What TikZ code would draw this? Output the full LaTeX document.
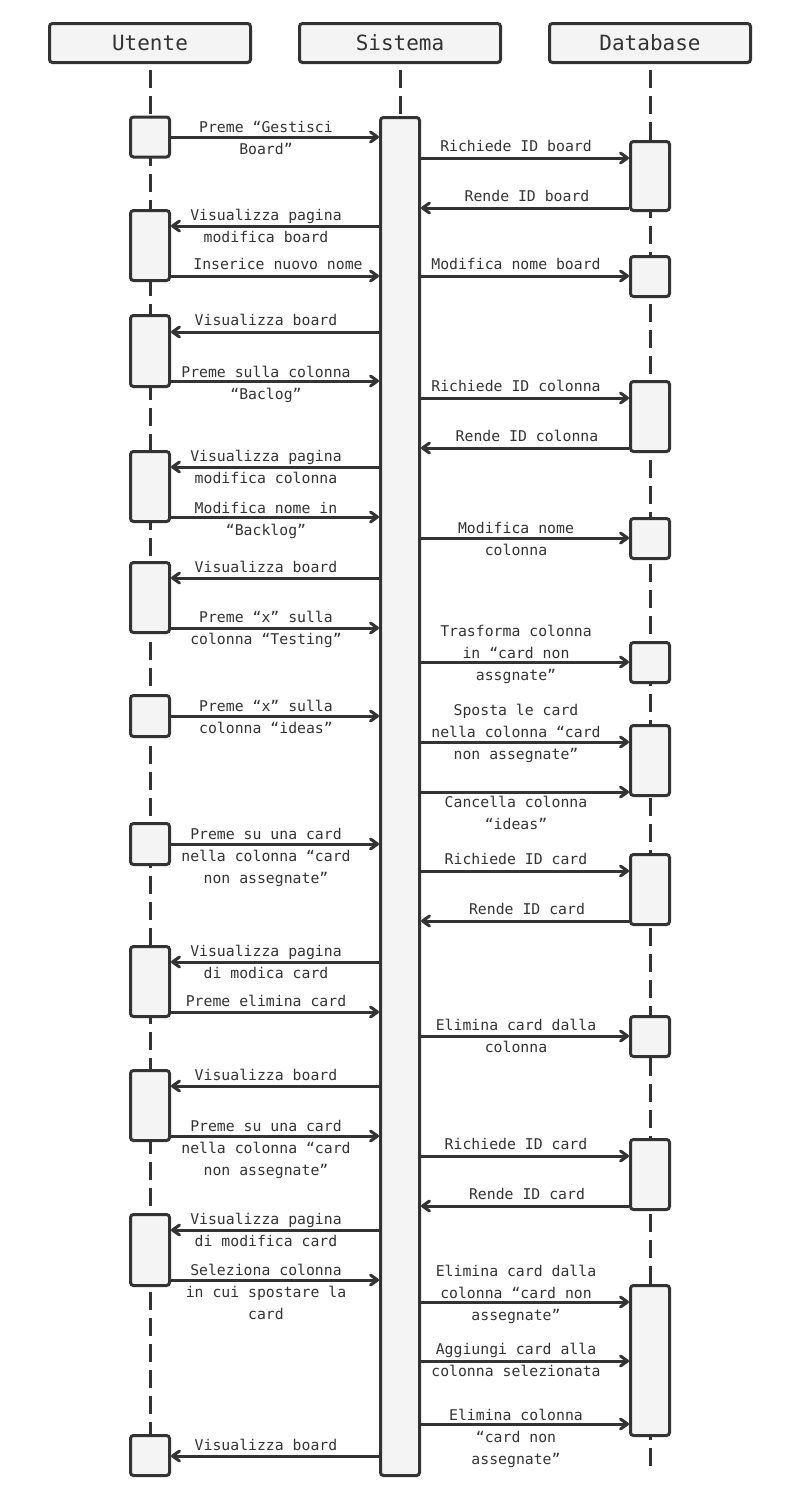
\documentclass[tikz,border=0pt]{standalone}
\usepackage{fontspec}
\usetikzlibrary{arrows.meta}
\newfontfamily\monofont{DejaVu Sans Mono}
\newcommand{\msgfont}{\monofont\fontsize{14.8}{22}\selectfont}
\newcommand{\headfont}{\monofont\fontsize{21}{25}\selectfont}
\definecolor{ink}{HTML}{333333}
\definecolor{boxfill}{HTML}{F4F4F5}
\tikzset{
  head/.style={draw=ink, fill=boxfill, line width=3pt, rounded corners=3pt, minimum width=201pt, minimum height=39pt, font=\headfont, text=ink},
  act/.style={draw=ink, fill=boxfill, line width=3pt, rounded corners=3pt, minimum width=39pt, inner sep=0pt},
  lifeline/.style={draw=ink, line width=3pt, dash pattern=on 18pt off 8pt},
  msgright/.style={draw=ink, line width=3pt, -{Straight Barb[length=7pt,width=10pt,round]}},
  msgleft/.style={draw=ink, line width=3pt, {Straight Barb[length=7pt,width=10pt,round]}-},
  lbl/.style={font=\msgfont, text=ink, align=center, inner sep=0pt},
}

\begin{document}
\begin{tikzpicture}[x=1pt, y=-1pt]
\useasboundingbox (0,0) rectangle (800,1500);
% partecipanti
\node[head] (utente) at (150,43) {Utente};
\node[head] (sistema) at (400,43) {Sistema};
\node[head] (database) at (650,43) {Database};
\coordinate (fine) at (0,1468);
\draw[lifeline] ([yshift=-6pt]utente.south) -- (utente |- fine);
\draw[lifeline] ([yshift=-6pt]sistema.south) -- (sistema |- fine);
\draw[lifeline] ([yshift=-6pt]database.south) -- (database |- fine);
% attivazioni
\node[act, minimum height=1358pt] (sis) at (400,796.5) {};
\node[act, minimum height=40pt] (u1) at (150,137) {};
\node[act, minimum height=70pt] (u2) at (150,245.5) {};
\node[act, minimum height=71pt] (u3) at (150,351) {};
\node[act, minimum height=70pt] (u4) at (150,486.5) {};
\node[act, minimum height=70pt] (u5) at (150,597.5) {};
\node[act, minimum height=41pt] (u6) at (150,716) {};
\node[act, minimum height=41pt] (u7) at (150,844) {};
\node[act, minimum height=70pt] (u8) at (150,981.5) {};
\node[act, minimum height=70pt] (u9) at (150,1105.5) {};
\node[act, minimum height=71pt] (u10) at (150,1250) {};
\node[act, minimum height=40pt] (u11) at (150,1455.5) {};
\node[act, minimum height=69pt] (d1) at (650,176) {};
\node[act, minimum height=40pt] (d2) at (650,276.5) {};
\node[act, minimum height=70pt] (d3) at (650,416.5) {};
\node[act, minimum height=40pt] (d4) at (650,538.5) {};
\node[act, minimum height=40pt] (d5) at (650,662.5) {};
\node[act, minimum height=70pt] (d6) at (650,760.5) {};
\node[act, minimum height=70pt] (d7) at (650,889.5) {};
\node[act, minimum height=40pt] (d8) at (650,1036.5) {};
\node[act, minimum height=70pt] (d9) at (650,1174.5) {};
\node[act, minimum height=150pt] (d10) at (650,1360.5) {};
% messaggi utente - sistema
\draw[msgright] (u1.east |- 0,137) -- (sis.west |- 0,137) node[lbl] (t1) at (266,138) {Preme “Gestisci\\Board”};
\draw[msgleft] (u2.east |- 0,226) -- (sis.west |- 0,226) node[lbl] (t2) at (266,226) {Visualizza pagina\\modifica board};
\draw[msgright] (u2.east |- 0,276) -- (sis.west |- 0,276) node[lbl] (t3) at (278,264) {Inserice nuovo nome};
\draw[msgleft] (u3.east |- 0,332) -- (sis.west |- 0,332) node[lbl] (t4) at (266,320) {Visualizza board};
\draw[msgright] (u3.east |- 0,381) -- (sis.west |- 0,381) node[lbl] (t5) at (266,384) {Preme sulla colonna\\“Baclog”};
\draw[msgleft] (u4.east |- 0,467) -- (sis.west |- 0,467) node[lbl] (t6) at (266,467) {Visualizza pagina\\modifica colonna};
\draw[msgright] (u4.east |- 0,517) -- (sis.west |- 0,517) node[lbl] (t7) at (266,520) {Modifica nome in\\“Backlog”};
\draw[msgleft] (u5.east |- 0,578) -- (sis.west |- 0,578) node[lbl] (t8) at (266,567) {Visualizza board};
\draw[msgright] (u5.east |- 0,628) -- (sis.west |- 0,628) node[lbl] (t9) at (266,629) {Preme “x” sulla\\colonna “Testing”};
\draw[msgright] (u6.east |- 0,716) -- (sis.west |- 0,716) node[lbl] (t10) at (266,717) {Preme “x” sulla\\colonna “ideas”};
\draw[msgright] (u7.east |- 0,844) -- (sis.west |- 0,844) node[lbl] (t11) at (266,857) {Preme su una card\\nella colonna “card\\non assegnate”};
\draw[msgleft] (u8.east |- 0,962) -- (sis.west |- 0,962) node[lbl] (t12) at (266,962) {Visualizza pagina\\di modica card};
\draw[msgright] (u8.east |- 0,1012) -- (sis.west |- 0,1012) node[lbl] (t13) at (266,1001) {Preme elimina card};
\draw[msgleft] (u9.east |- 0,1086) -- (sis.west |- 0,1086) node[lbl] (t14) at (266,1075) {Visualizza board};
\draw[msgright] (u9.east |- 0,1136) -- (sis.west |- 0,1136) node[lbl] (t15) at (266,1149) {Preme su una card\\nella colonna “card\\non assegnate”};
\draw[msgleft] (u10.east |- 0,1230) -- (sis.west |- 0,1230) node[lbl] (t16) at (266,1230) {Visualizza pagina\\di modifica card};
\draw[msgright] (u10.east |- 0,1280) -- (sis.west |- 0,1280) node[lbl] (t17) at (266,1292) {Seleziona colonna\\in cui spostare la\\card};
\draw[msgleft] (u11.east |- 0,1456) -- (sis.west |- 0,1456) node[lbl] (t18) at (266,1445) {Visualizza board};
% messaggi sistema - database
\draw[msgright] (sis.east |- 0,158) -- (d1.west |- 0,158) node[lbl] (r1) at (516,146) {Richiede ID board};
\draw[msgleft] (sis.east |- 0,208) -- (d1.west |- 0,208) node[lbl] (r2) at (527,196) {Rende ID board};
\draw[msgright] (sis.east |- 0,276) -- (d2.west |- 0,276) node[lbl] (r3) at (516,264) {Modifica nome board};
\draw[msgright] (sis.east |- 0,398) -- (d3.west |- 0,398) node[lbl] (r4) at (516,386) {Richiede ID colonna};
\draw[msgleft] (sis.east |- 0,448) -- (d3.west |- 0,448) node[lbl] (r5) at (527,436) {Rende ID colonna};
\draw[msgright] (sis.east |- 0,538) -- (d4.west |- 0,538) node[lbl] (r6) at (516,539) {Modifica nome\\colonna};
\draw[msgright] (sis.east |- 0,662) -- (d5.west |- 0,662) node[lbl] (r7) at (516,654) {Trasforma colonna\\in “card non\\assgnate”};
\draw[msgright] (sis.east |- 0,742) -- (d6.west |- 0,742) node[lbl] (r8) at (516,733) {Sposta le card\\nella colonna “card\\non assegnate”};
\draw[msgright] (sis.east |- 0,792) -- (d6.west |- 0,792) node[lbl] (r9) at (516,813) {Cancella colonna\\“ideas”};
\draw[msgright] (sis.east |- 0,871) -- (d7.west |- 0,871) node[lbl] (r10) at (516,859) {Richiede ID card};
\draw[msgleft] (sis.east |- 0,921) -- (d7.west |- 0,921) node[lbl] (r11) at (527,909) {Rende ID card};
\draw[msgright] (sis.east |- 0,1036) -- (d8.west |- 0,1036) node[lbl] (r12) at (516,1036) {Elimina card dalla\\colonna};
\draw[msgright] (sis.east |- 0,1156) -- (d9.west |- 0,1156) node[lbl] (r13) at (516,1144) {Richiede ID card};
\draw[msgleft] (sis.east |- 0,1206) -- (d9.west |- 0,1206) node[lbl] (r14) at (527,1194) {Rende ID card};
\draw[msgright] (sis.east |- 0,1302) -- (d10.west |- 0,1302) node[lbl] (r15) at (516,1294) {Elimina card dalla\\colonna “card non\\assegnate”};
\draw[msgright] (sis.east |- 0,1361) -- (d10.west |- 0,1361) node[lbl] (r16) at (516,1360) {Aggiungi card alla\\colonna selezionata};
\draw[msgright] (sis.east |- 0,1424) -- (d10.west |- 0,1424) node[lbl] (r17) at (516,1438) {Elimina colonna\\“card non\\assegnate”};
\end{tikzpicture}
\end{document}
